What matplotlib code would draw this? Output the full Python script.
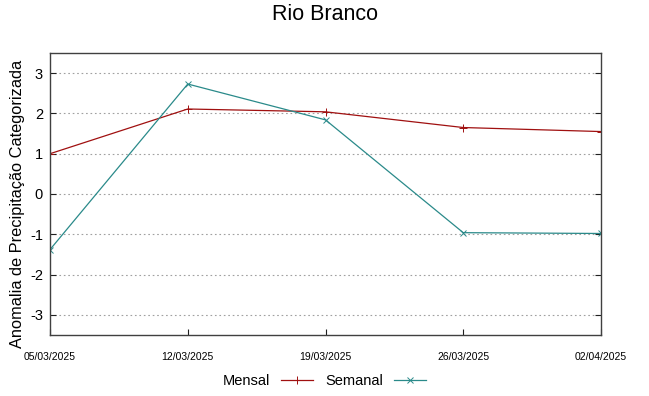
import matplotlib
matplotlib.use("Agg")
import matplotlib.pyplot as plt
import pandas as pd

plt.rcParams['font.family'] = ['Liberation Sans', 'DejaVu Sans']
plt.rcParams['axes.unicode_minus'] = False

# dados
datas = ['2025-03-05', '2025-03-12', '2025-03-19', '2025-03-26', '2025-04-02']
rotulos = ['05/03/2025', '12/03/2025', '19/03/2025', '26/03/2025', '02/04/2025']
mensal = [1.00, 2.11, 2.04, 1.65, 1.55]
semanal = [-1.38, 2.73, 1.84, -0.96, -0.98]

x = pd.to_datetime(datas)

fig = plt.figure(figsize=(6.49, 3.96), dpi=100)
ax = fig.add_axes([50/649, 1 - 335/396, 551/649, 282/396])

ax.plot(x, mensal, color='#a01010', lw=0.9, marker='+', ms=6, mew=0.7, label='Mensal')
ax.plot(x, semanal, color='#2a8a8a', lw=0.9, marker='x', ms=4.5, mew=0.7, label='Semanal')

ax.set_xlim(x[0], x[-1])
ax.set_ylim(-3.5, 3.5)
ax.set_yticks([-3, -2, -1, 0, 1, 2, 3])
ax.set_xticks(x)
ax.set_xticklabels(rotulos, fontsize=7.5)
ax.tick_params(axis='y', labelsize=10.5, direction='in', right=True, length=4, width=0.8,
               color='#202020', pad=5)
ax.tick_params(axis='x', direction='in', length=4, width=0.8, pad=12, color='#202020')
ax.grid(axis='y', color='#a0a0a0', ls=(0, (1.5, 2.5)), lw=0.8)
for s in ax.spines.values():
    s.set_color('#404040')
    s.set_linewidth(1.0)

ax.set_ylabel('Anomalia de Precipitação Categorizada', fontsize=11.8)
ax.yaxis.set_label_coords(-0.045, 0.465)
fig.suptitle('Rio Branco', fontsize=15.5, y=0.99)

fig.legend(loc='lower center', bbox_to_anchor=(0.5, -0.012), ncol=2, frameon=False,
           markerfirst=False, fontsize=10.5, handlelength=2.2, columnspacing=0.9,
           handletextpad=0.7)

fig.savefig('out.png', dpi=100)
